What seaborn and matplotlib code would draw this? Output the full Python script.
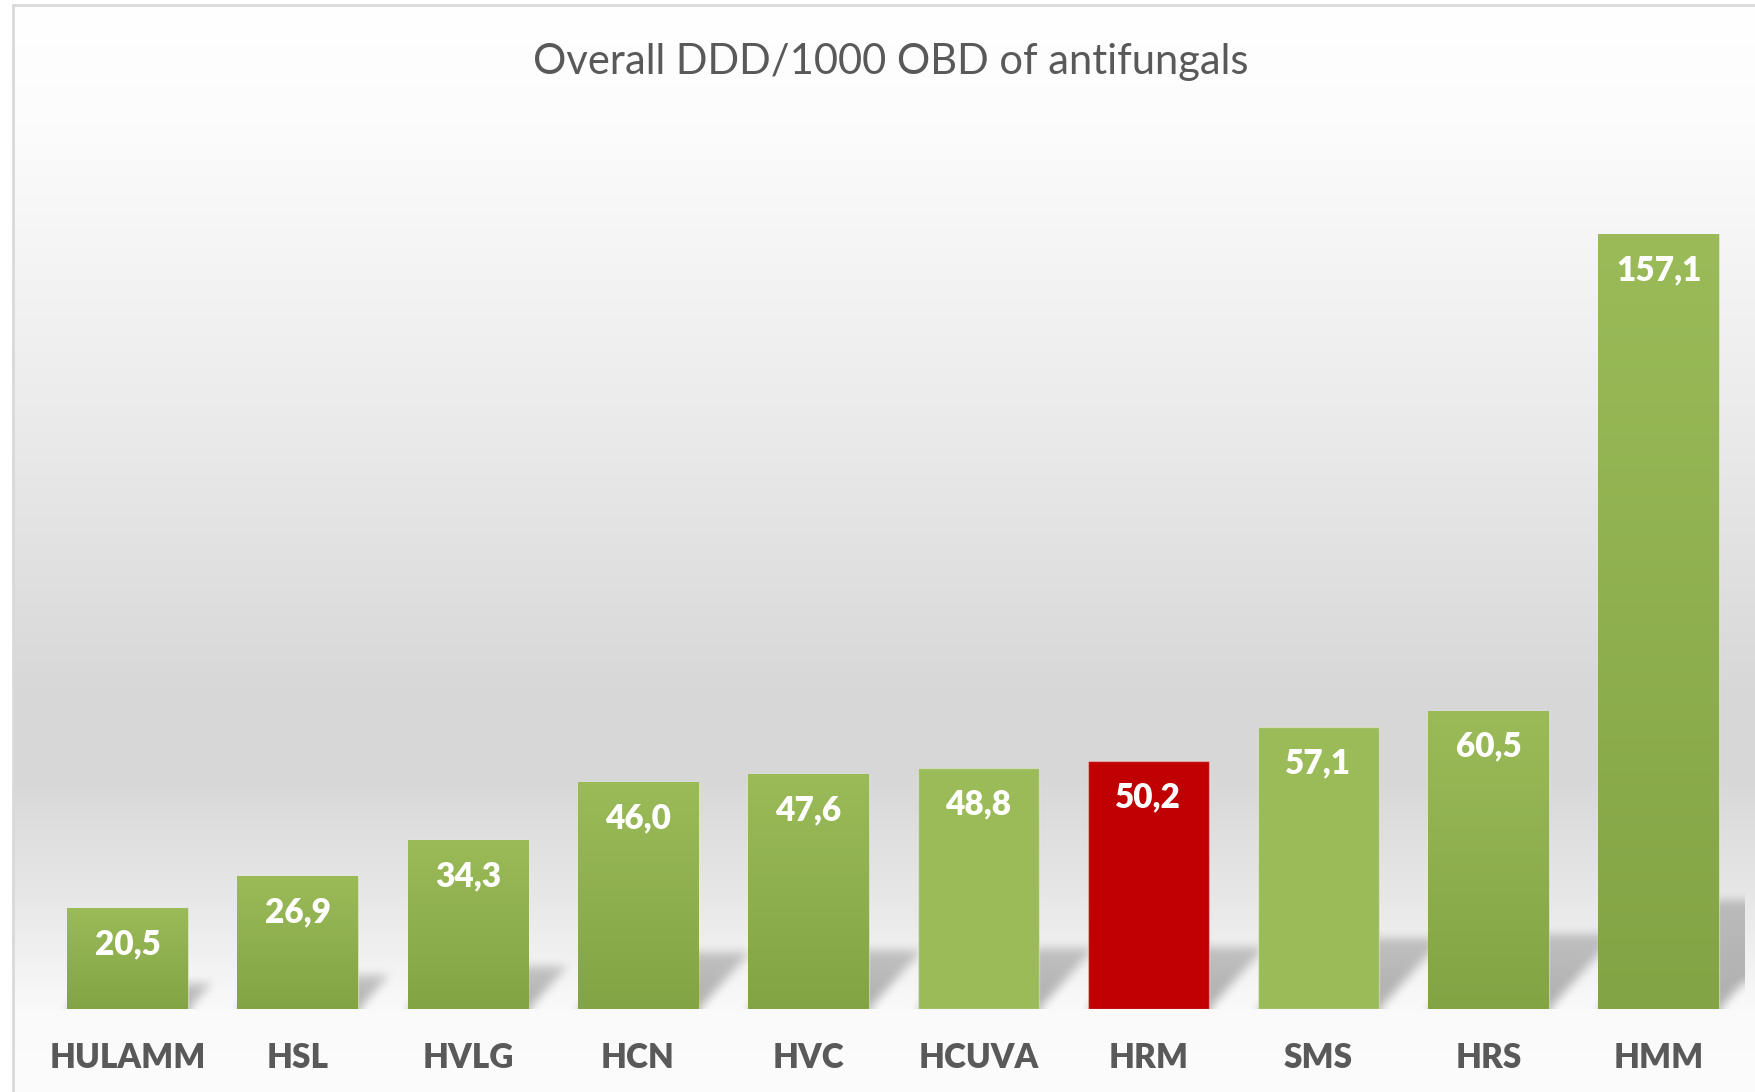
import numpy as np
import pandas as pd
import matplotlib
matplotlib.use('Agg')
import matplotlib.pyplot as plt
import seaborn as sns

# Overall DDD/1000 OBD of antifungals by hospital

sites = ['HULAMM', 'HSL', 'HVLG', 'HCN', 'HVC', 'HCUVA', 'HRM', 'SMS', 'HRS', 'HMM']
ddd_values = [20.5, 26.9, 34.3, 46.0, 47.6, 48.8, 50.2, 57.1, 60.5, 157.1]

# fill type per bar: 'grad' = green gradient, 'flat' = flat green, 'red' = highlighted
fill_type = ['grad', 'grad', 'grad', 'grad', 'grad', 'flat', 'red', 'flat', 'grad', 'grad']

green_top = np.array([155, 187, 89]) / 255
green_bot = np.array([131, 164, 68]) / 255
red = '#C00000'
text_grey = '#595959'

df = pd.DataFrame({'Site': sites, 'DDD': ddd_values})

sns.set_style('white')
plt.rcParams['font.family'] = ['Lato', 'DejaVu Sans']

W, H = 1756, 1092
fig = plt.figure(figsize=(W / 100, H / 100), dpi=100)
fig.patch.set_facecolor('white')

# chart area background (vertical grey gradient) with thin border
bg = fig.add_axes([13 / W, 0, 1 - 13 / W, 1 - 5 / H])
stops_y = [0, 120, 400, 700, 780, 900, 980, 1010, 1092]
stops_v = [255, 252, 236, 215, 216, 232, 245, 250, 252]
yy = np.arange(H)
shade = np.interp(yy, stops_y, stops_v) / 255
grad_img = np.repeat(shade[:, None, None], 3, axis=2)
bg.imshow(grad_img, aspect='auto', extent=(0, 1, 0, 1), origin='upper')
bg.set_xticks([])
bg.set_yticks([])
for side in ['right', 'bottom']:
    bg.spines[side].set_visible(False)
for side in ['left', 'top']:
    bg.spines[side].set_color('#D9D9D9')
    bg.spines[side].set_linewidth(2)

# main plot axes
x0, x1 = 42.6, 1743.8
y_base, y_top = 1009, 121
ax = fig.add_axes([x0 / W, (H - y_base) / H, (x1 - x0) / W, (y_base - y_top) / H])
ax.patch.set_alpha(0)

bar_colors = [red if f == 'red' else green_top for f in fill_type]
sns.barplot(data=df, x='Site', y='DDD', hue='Site', palette=bar_colors,
            legend=False, width=0.71, saturation=1, ax=ax, zorder=3,
            edgecolor=(1, 1, 1, 0.35), linewidth=1)

xlim = (-0.5, len(sites) - 0.5)
ylim = (0, 180)

# perspective shadows behind the bars, built as a blurred image
px_w, px_h = int(x1 - x0), int(y_base - y_top)
gx = np.linspace(xlim[0], xlim[1], px_w)
gy = np.linspace(ylim[1], ylim[0], px_h)
GX, GY = np.meshgrid(gx, gy)
alpha = np.zeros_like(GX)
half = 0.71 / 2
slope = 0.9 * ((px_h / (ylim[1] - ylim[0])) / (px_w / (xlim[1] - xlim[0])))
for i, v in enumerate(ddd_values):
    hs = min(0.25 * v, 22)
    shift = slope * GY
    inside = (GY <= hs) & (GX >= i - half + shift) & (GX <= i + half + shift)
    a = 0.30 * (1 - 0.35 * GY / hs)
    alpha = np.maximum(alpha, np.where(inside, a, 0))


def box_blur(a, r):
    for axis in (0, 1):
        pad = [(0, 0), (0, 0)]
        pad[axis] = (r, r)
        p = np.pad(a, pad, mode='edge')
        c = np.cumsum(p, axis=axis)
        c = np.insert(c, 0, 0, axis=axis)
        n = a.shape[axis]
        a = (np.take(c, np.arange(2 * r + 1, 2 * r + 1 + n), axis=axis)
             - np.take(c, np.arange(0, n), axis=axis)) / (2 * r + 1)
    return a


alpha = box_blur(box_blur(alpha, 5), 5)
shadow = np.zeros((px_h, px_w, 4))
shadow[..., 3] = alpha
ax.imshow(shadow, extent=(xlim[0], xlim[1], ylim[0], ylim[1]), aspect='auto',
          zorder=1, interpolation='bilinear')

# gradient fill for the shaded bars
for patch, f in zip(ax.patches, fill_type):
    if f != 'grad':
        continue
    bx, by = patch.get_x(), patch.get_y()
    bw, bh = patch.get_width(), patch.get_height()
    t = np.linspace(0, 1, 256)[:, None]
    col = green_top[None, :] * (1 - t) + green_bot[None, :] * t
    img = np.repeat(col[:, None, :], 2, axis=1)
    im = ax.imshow(img, extent=(bx, bx + bw, by, by + bh), aspect='auto',
                   origin='upper', zorder=3.5)
    im.set_clip_path(patch)

# value labels inside the bar tops
for i, v in enumerate(ddd_values):
    ax.annotate(f'{v:.1f}'.replace('.', ','), (i, v), xytext=(0, -26),
                textcoords='offset points', ha='center', va='center',
                fontsize=24, fontweight='heavy', color='white', zorder=5)

ax.set_xlim(*xlim)
ax.set_ylim(*ylim)
ax.set_xlabel('')
ax.set_ylabel('')
ax.set_yticks([])
ax.tick_params(axis='x', length=0, pad=24, labelsize=24, labelcolor=text_grey)
for lbl in ax.get_xticklabels():
    lbl.set_fontweight('heavy')
sns.despine(ax=ax, left=True, bottom=True)

fig.text(891 / W, 1 - 62 / H, 'Overall DDD/1000 OBD of antifungals',
         ha='center', va='center', fontsize=30, color=text_grey)

fig.savefig('out.png', dpi=100)
